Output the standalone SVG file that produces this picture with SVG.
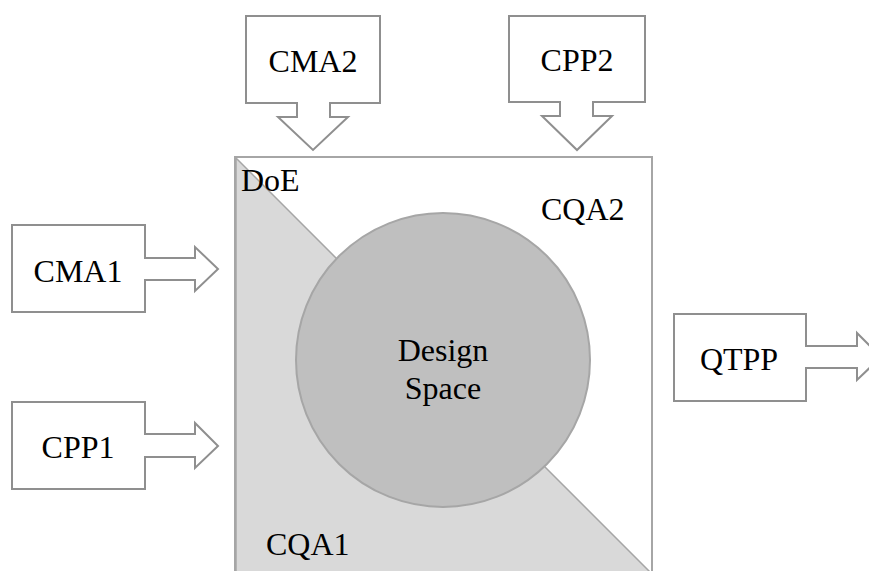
<svg xmlns="http://www.w3.org/2000/svg" width="869" height="571" viewBox="0 0 869 571">
<style>
.co{fill:#ffffff;stroke:#8f8f8f;stroke-width:2;stroke-linejoin:miter}
.t{font-family:"Liberation Serif","Times New Roman",serif;font-size:32px;fill:#000000;text-anchor:middle}
.tl{font-family:"Liberation Serif","Times New Roman",serif;font-size:32px;fill:#000000}
</style>
<rect width="869" height="571" fill="#ffffff"/>
<g id="design-square">
<rect x="235" y="157" width="417" height="425" fill="#ffffff" stroke="#a6a6a6" stroke-width="2"/>
<polygon points="236,158 651,573 236,573" fill="#d9d9d9" stroke="#a6a6a6" stroke-width="1.5"/>
<text class="tl" x="241" y="191">DoE</text>
<text class="tl" x="541" y="220">CQA2</text>
<text class="tl" x="266" y="555">CQA1</text>
</g>
<g id="design-space">
<circle cx="443" cy="360" r="147" fill="#bfbfbf" stroke="#a6a6a6" stroke-width="2"/>
<text class="t" x="443" y="361">Design</text>
<text class="t" x="443" y="399">Space</text>
</g>
<g id="connectors"></g>
<g id="cma2">
<path class="co" d="M246,16 H380 V103 H330 V117 H348 L313,150 L278,117 H297 V103 H246 Z"/>
<text class="t" x="313" y="72">CMA2</text>
</g>
<g id="cpp2">
<path class="co" d="M509,16 H645 V102 H593 V116 H612 L577,150 L542,116 H560 V102 H509 Z"/>
<text class="t" x="577" y="71">CPP2</text>
</g>
<g id="cma1">
<path class="co" d="M12,225 H145 V258 H195 V247 L218,269 L195,291 V280 H145 V312 H12 Z"/>
<text class="t" x="78" y="282">CMA1</text>
</g>
<g id="cpp1">
<path class="co" d="M12,402 H145 V434 H195 V423 L218,446 L195,468 V457 H145 V489 H12 Z"/>
<text class="t" x="78" y="458">CPP1</text>
</g>
<g id="qtpp">
<path class="co" d="M674,314 H806 V346 H857 V333 L881,357 L857,380 V368 H806 V401 H674 Z"/>
<text class="t" x="739" y="370">QTPP</text>
</g>
</svg>
